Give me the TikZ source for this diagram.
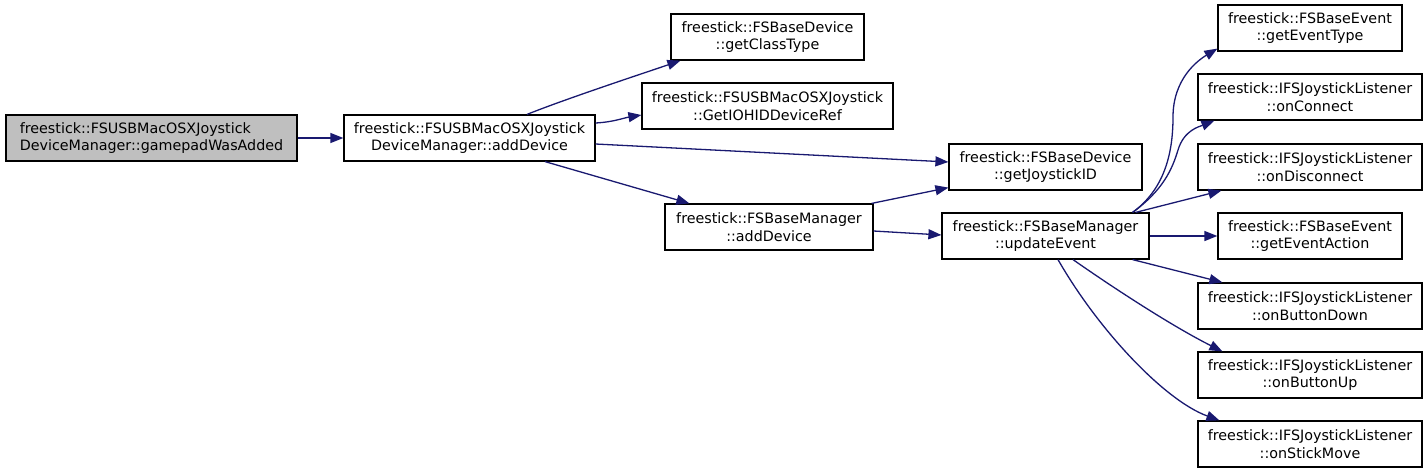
\documentclass[tikz,border=0pt]{standalone}
\usepackage{fontspec}
\setmainfont{DejaVu Sans}
\usetikzlibrary{arrows.meta}
\definecolor{edgeblue}{HTML}{191970}
\definecolor{rootgray}{HTML}{BFBFBF}
\tikzset{
  fn/.style={draw=black, line width=1.2pt, fill=white, inner sep=0pt, align=center,
    font=\fontsize{14.3}{17.5}\selectfont},
  root/.style={fn, fill=rootgray, align=left},
  call/.style={draw=edgeblue, line width=1.3pt, -{Triangle[length=13pt,width=10pt]}},
}
\begin{document}
\begin{tikzpicture}[x=1pt,y=-1pt]
\useasboundingbox (0,0) rectangle (1427,472);
\node[root, minimum width=291, minimum height=46] (A) at (151.5,138) {freestick::FSUSBMacOSXJoystick\\DeviceManager::gamepadWasAdded};
\node[fn, minimum width=251, minimum height=46] (B) at (469.5,138) {freestick::FSUSBMacOSXJoystick\\DeviceManager::addDevice};
\node[fn, minimum width=193, minimum height=46] (C) at (767.5,37) {freestick::FSBaseDevice\\::getClassType};
\node[fn, minimum width=251, minimum height=46] (D) at (767.5,106) {freestick::FSUSBMacOSXJoystick\\::GetIOHIDDeviceRef};
\node[fn, minimum width=193, minimum height=46] (E) at (1045.5,167) {freestick::FSBaseDevice\\::getJoystickID};
\node[fn, minimum width=208, minimum height=46] (F) at (769,227) {freestick::FSBaseManager\\::addDevice};
\node[fn, minimum width=207, minimum height=46] (G) at (1045.5,236) {freestick::FSBaseManager\\::updateEvent};
\node[fn, minimum width=184, minimum height=46] (H1) at (1310,28) {freestick::FSBaseEvent\\::getEventType};
\node[fn, minimum width=224, minimum height=46] (H2) at (1310,97) {freestick::IFSJoystickListener\\::onConnect};
\node[fn, minimum width=224, minimum height=46] (H3) at (1310,167) {freestick::IFSJoystickListener\\::onDisconnect};
\node[fn, minimum width=184, minimum height=46] (H4) at (1310,236) {freestick::FSBaseEvent\\::getEventAction};
\node[fn, minimum width=224, minimum height=46] (H5) at (1310,306) {freestick::IFSJoystickListener\\::onButtonDown};
\node[fn, minimum width=224, minimum height=46] (H6) at (1310,375) {freestick::IFSJoystickListener\\::onButtonUp};
\node[fn, minimum width=224, minimum height=46] (H7) at (1310,444) {freestick::IFSJoystickListener\\::onStickMove};

\draw[call] (A.east) -- (B.west);
\draw[call] ([xshift=57.5]B.north) .. controls +(40,-16) and +(-35,12) .. ([xshift=10]C.south west);
\draw[call] ([yshift=15]B.east) .. controls +(18,-1) and +(-18,3) .. ([yshift=-9]D.west);
\draw[call] ([yshift=-6]B.east) -- ([yshift=5]E.west);
\draw[call] ([xshift=75.5]B.south) -- ([xshift=25]F.north west);
\draw[call] ([xshift=-2]F.north east) -- ([yshift=3]E.south west);
\draw[call] ([yshift=-4]F.east) -- ([yshift=1]G.west);
\draw[call] ([xshift=-17]G.north east) .. controls +(30,-22) and +(0,40) .. (1173,117) .. controls +(0,-38) and +(-20,12) .. ([yshift=3]H1.south west);
\draw[call] ([xshift=-17]G.north east) .. controls +(30,-22) and +(-6,20) .. (1178,150) .. controls +(6,-20) and +(-15,6) .. ([xshift=17]H2.south west);
\draw[call] ([xshift=-14]G.north east) -- ([xshift=24]H3.south west);
\draw[call] (G.east) -- (H4.west);
\draw[call] ([xshift=-17]G.south east) -- ([xshift=25]H5.north west);
\draw[call] ([xshift=27.5]G.south) .. controls +(40,28) and +(-50,-25) .. ([xshift=25]H6.north west);
\draw[call] ([xshift=12.5]G.south) .. controls +(40,70) and +(-55,-20) .. ([xshift=22]H7.north west);
\end{tikzpicture}
\end{document}
